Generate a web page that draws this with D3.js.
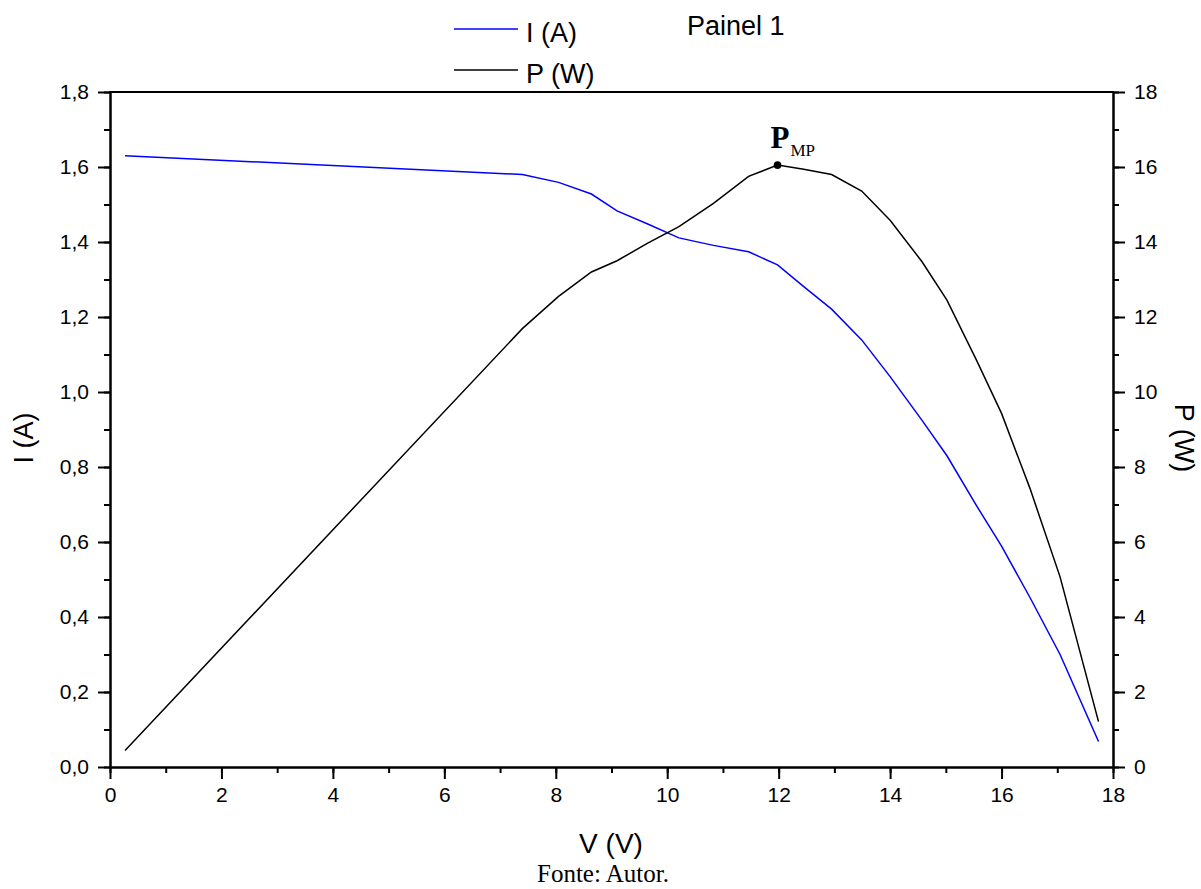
<!DOCTYPE html>
<html><head><meta charset="utf-8">
<script src="https://cdn.jsdelivr.net/npm/d3@7"></script>
<style>
html,body{margin:0;padding:0;background:#fff;}
svg{display:block;font-family:Arial,"Liberation Sans",sans-serif;}
</style></head>
<body>
<svg id="chart" width="1201" height="889"></svg>
<script>
// ---- data ----
const voltage = [0.27, 7.40, 8.05, 8.64, 9.10, 9.65, 10.21, 10.83, 11.46, 11.98, 12.45, 12.95, 13.49, 14.00, 14.57, 15.02, 15.55, 16.00, 16.51, 17.05, 17.74];
const current = [1.630, 1.580, 1.559, 1.528, 1.483, 1.448, 1.411, 1.391, 1.374, 1.339, 1.281, 1.221, 1.139, 1.041, 0.925, 0.830, 0.697, 0.589, 0.452, 0.300, 0.068];
const power   = [0.44, 11.69, 12.55, 13.20, 13.50, 13.97, 14.41, 15.03, 15.75, 16.05, 15.94, 15.80, 15.36, 14.58, 13.48, 12.45, 10.85, 9.43, 7.43, 5.07, 1.21];
const xTicks = [0, 2, 4, 6, 8, 10, 12, 14, 16, 18];
const yLeftTicks = [0, 0.2, 0.4, 0.6, 0.8, 1.0, 1.2, 1.4, 1.6, 1.8];
const yRightTicks = [0, 2, 4, 6, 8, 10, 12, 14, 16, 18];
const legendLabels = ["I (A)", "P (W)"];
const title = "Painel 1";
const mppIndex = 9;

// ---- layout ----
const svg = d3.select("#chart");
const L = 110, R = 1113, T = 92, B = 767;
const x = d3.scaleLinear().domain([0, 18]).range([L, R]);
const yI = d3.scaleLinear().domain([0, 1.8]).range([B, T]);
const yP = d3.scaleLinear().domain([0, 18]).range([B, T]);
const loc = d3.formatLocale({decimal: ",", thousands: ".", grouping: [3], currency: ["", ""]});
const f1 = loc.format(".1f");

const tickFont = "21px";
function styleAxis(g) {
  g.select(".domain").attr("stroke", "#000").attr("stroke-width", 2);
  g.selectAll(".tick line").attr("stroke", "#000").attr("stroke-width", 2);
  g.selectAll(".tick text").attr("fill", "#000").style("font-size", tickFont).style("font-family", "Arial, 'Liberation Sans', sans-serif");
}

// minor ticks
const minorX = d3.range(0, 18.001, 1);
const minorYL = d3.range(0, 1.8001, 0.1);
const minorYR = d3.range(0, 18.001, 1);
svg.append("g").attr("transform", `translate(0,${B})`)
  .call(d3.axisBottom(x).tickValues(minorX).tickSize(6).tickSizeOuter(0).tickFormat(""))
  .call(styleAxis);
svg.append("g").attr("transform", `translate(${L},0)`)
  .call(d3.axisLeft(yI).tickValues(minorYL).tickSize(6).tickSizeOuter(0).tickFormat(""))
  .call(styleAxis);
svg.append("g").attr("transform", `translate(${R},0)`)
  .call(d3.axisRight(yP).tickValues(minorYR).tickSize(6).tickSizeOuter(0).tickFormat(""))
  .call(styleAxis);

// major ticks
svg.append("g").attr("transform", `translate(0,${B})`)
  .call(d3.axisBottom(x).tickValues(xTicks).tickSize(12).tickSizeOuter(0).tickPadding(8).tickFormat(d3.format("d")))
  .call(styleAxis);
svg.append("g").attr("transform", `translate(${L},0)`)
  .call(d3.axisLeft(yI).tickValues(yLeftTicks).tickSize(12).tickSizeOuter(0).tickPadding(9).tickFormat(f1))
  .call(styleAxis);
svg.append("g").attr("transform", `translate(${R},0)`)
  .call(d3.axisRight(yP).tickValues(yRightTicks).tickSize(12).tickSizeOuter(0).tickPadding(9).tickFormat(d3.format("d")))
  .call(styleAxis);

// top frame
svg.append("line").attr("x1", L - 1).attr("x2", R + 1).attr("y1", T).attr("y2", T)
  .attr("stroke", "#000").attr("stroke-width", 2);

// lines
const pts = voltage.map((v, i) => ({v, i: current[i], p: power[i]}));
svg.append("path").datum(pts)
  .attr("fill", "none").attr("stroke", "#0000ff").attr("stroke-width", 1.5)
  .attr("d", d3.line().x(d => x(d.v)).y(d => yI(d.i)));
svg.append("path").datum(pts)
  .attr("fill", "none").attr("stroke", "#000").attr("stroke-width", 1.5)
  .attr("d", d3.line().x(d => x(d.v)).y(d => yP(d.p)));

// MPP marker
const mp = pts[mppIndex];
svg.append("circle").attr("cx", x(mp.v)).attr("cy", yP(mp.p)).attr("r", 3.8).attr("fill", "#000");
const mpl = svg.append("text").attr("x", x(mp.v) - 7).attr("y", yP(mp.p) - 17)
  .style("font-family", "'Liberation Serif','Times New Roman',serif").attr("fill", "#000");
mpl.append("tspan").text("P").style("font-size", "31px").style("font-weight", "bold");
mpl.append("tspan").text("MP").style("font-size", "17px").attr("dx", 1).attr("dy", 8);

// axis titles
svg.append("text").attr("transform", `translate(33,438) rotate(-90)`).attr("text-anchor", "middle")
  .style("font-size", "27px").attr("fill", "#000").text("I (A)");
svg.append("text").attr("transform", `translate(1175,438) rotate(90)`).attr("text-anchor", "middle")
  .style("font-size", "27px").attr("fill", "#000").text("P (W)");
svg.append("text").attr("x", 611).attr("y", 853).attr("text-anchor", "middle")
  .style("font-size", "28px").attr("fill", "#000").text("V (V)");

// legend
const legColors = ["#0000ff", "#000"];
const legY = [29, 70];
const legBase = [42, 83];
legendLabels.forEach((lab, k) => {
  svg.append("line").attr("x1", 454).attr("x2", 518).attr("y1", legY[k]).attr("y2", legY[k])
    .attr("stroke", legColors[k]).attr("stroke-width", 1.5);
  svg.append("text").attr("x", 526).attr("y", legBase[k]).style("font-size", "27px").attr("fill", "#000").text(lab);
});
svg.append("text").attr("x", 687).attr("y", 35).style("font-size", "27px").attr("fill", "#000").text(title);

// source note
svg.append("text").attr("x", 603).attr("y", 882).attr("text-anchor", "middle")
  .style("font-family", "'Liberation Serif','Times New Roman',serif").style("font-size", "25px")
  .attr("fill", "#000").text("Fonte: Autor.");
</script>
</body></html>
